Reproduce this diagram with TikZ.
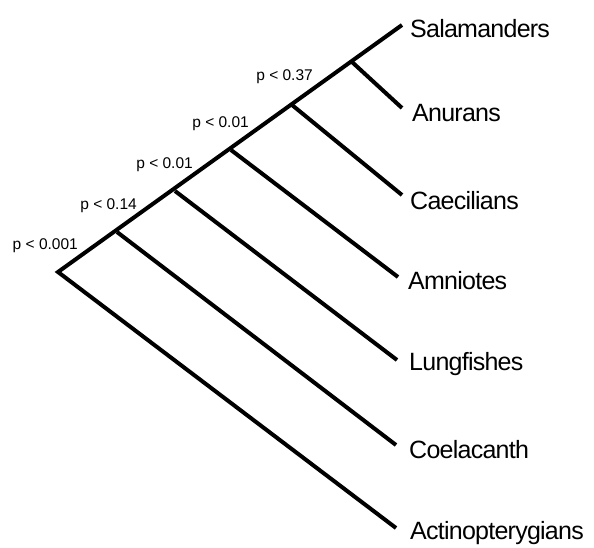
\documentclass[tikz,border=0pt]{standalone}
\usepackage{fontspec}
\setmainfont{Liberation Sans}
\newfontfamily\taxonfont[LetterSpace=-3]{Liberation Sans}
\usepackage{tikz}
\usetikzlibrary{positioning,calc}

\begin{document}
\begin{tikzpicture}[
    x=1pt, y=-1pt,
    branch/.style={line width=4pt, line join=miter},
    taxon/.style={inner sep=0pt, font=\taxonfont\fontsize{25}{25}\selectfont},
    pval/.style={anchor=base east, inner sep=0pt, font=\fontsize{15.5}{16}\selectfont}
]
    \useasboundingbox (0,0) rectangle (594,548);

    % splits along the spine
    \coordinate (n0) at (58,272);
    \coordinate (n1) at (117,232);
    \coordinate (n2) at (175,191);
    \coordinate (n3) at (231,150);
    \coordinate (n4) at (292,105);
    \coordinate (n5) at (352,62);

    % branch tips
    \coordinate (salt) at (402,25);
    \coordinate (anut) at (402,108);
    \coordinate (caet) at (402,195);
    \coordinate (amnt) at (398,277);
    \coordinate (lunt) at (397,360);
    \coordinate (coet) at (396,445);
    \coordinate (actt) at (396,528);

    % taxa
    \node [taxon, right=8pt of salt, yshift=-4pt] (sal) {Salamanders};
    \node [taxon, right=10pt of anut, yshift=-5pt] (anu) {Anurans};
    \node [taxon, right=8pt of caet, yshift=-6pt] (cae) {Caecilians};
    \node [taxon, right=10pt of amnt, yshift=-4pt] (amn) {Amniotes};
    \node [taxon, right=12pt of lunt, yshift=-4pt] (lun) {Lungfishes};
    \node [taxon, right=13pt of coet, yshift=-5pt] (coe) {Coelacanth};
    \node [taxon, right=14pt of actt, yshift=-5pt] (act) {Actinopterygians};

    % support values
    \node [pval] (p0) at ([shift={(20,-23)}]n0) {p < 0.001};
    \node [pval] (p1) at ([shift={(20,-22)}]n1) {p < 0.14};
    \node [pval] (p2) at ([shift={(18,-22)}]n2) {p < 0.01};
    \node [pval] (p3) at ([shift={(18,-22)}]n3) {p < 0.01};
    \node [pval] (p4) at ([shift={(21,-24)}]n4) {p < 0.37};

    \draw [branch] (actt) -- (n0) -- (salt);
    \draw [branch] (n1) -- (coet);
    \draw [branch] (n2) -- (lunt);
    \draw [branch] (n3) -- (amnt);
    \draw [branch] (n4) -- (caet);
    \draw [branch] (n5) -- (anut);
\end{tikzpicture}
\end{document}
